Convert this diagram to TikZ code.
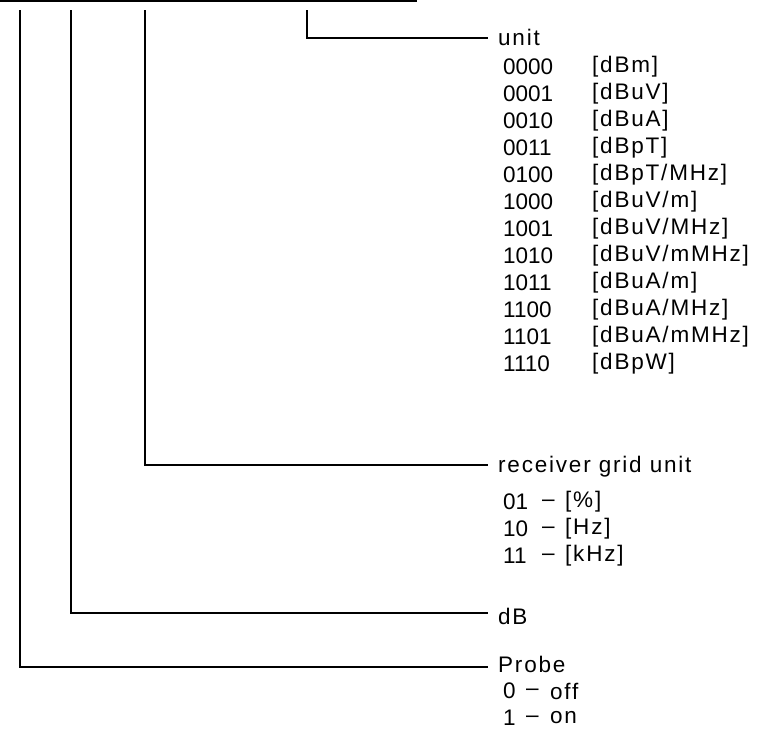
\documentclass[tikz,border=0pt]{standalone}
\usepackage{fontspec}
\setmainfont{Liberation Sans}
\newfontfamily\widefont[LetterSpace=8]{Liberation Sans}
\begin{document}
\begin{tikzpicture}[x=1pt,y=-1pt,
  ln/.style={line width=1.6pt},
  lbl/.style={anchor=west,inner sep=0pt,font=\widefont\fontsize{22.5}{26}\selectfont},
  code/.style={anchor=west,inner sep=0pt,font=\fontsize{22.5}{26}\selectfont}]
\useasboundingbox (0,0) rectangle (775,734);
% top line
\coordinate (t0) at (0,1);
\coordinate (t1) at (417,1);
\draw[ln] (t0) -- (t1);
% label nodes
\node[lbl] (unit) at (498,37) {unit};
\node[lbl] (rgu) at (498,467) {receiver grid unit};
\node[lbl] (db) at (498,616) {dB};
\node[lbl] (probe) at (498,664) {Probe};
% bracket corners
\coordinate (u0) at (307,10);
\coordinate (r0) at (145,10);
\coordinate (d0) at (71,10);
\coordinate (p0) at (20,10);
\draw[ln] (u0) |- ([xshift=-10pt,yshift=-1pt]unit.west);
\draw[ln] (r0) |- ([xshift=-10pt,yshift=2pt]rgu.west);
\draw[ln] (d0) |- ([xshift=-10pt,yshift=3pt]db.west);
\draw[ln] (p0) |- ([xshift=-10pt,yshift=-3pt]probe.west);
% unit codes
\foreach \c/\u [count=\i from 0] in {0000/{[dBm]},0001/{[dBuV]},0010/{[dBuA]},0011/{[dBpT]},0100/{[dBpT/MHz]},1000/{[dBuV/m]},1001/{[dBuV/MHz]},1010/{[dBuV/mMHz]},1011/{[dBuA/m]},1100/{[dBuA/MHz]},1101/{[dBuA/mMHz]},1110/{[dBpW]}}{
  \node[code] (c\i) at (503,{67+27*\i}) {\c};
  \node[lbl] (v\i) at (592,{67+27*\i}) {\u};
}
% grid unit codes
\node[code] (g1) at (503,502) {01};
\node[code] (g1d) at (542,503) {–};
\node[lbl] (g1v) at (565,502) {[\%]};
\node[code] (g2) at (503,529) {10};
\node[code] (g2d) at (542,530) {–};
\node[lbl] (g2v) at (565,529) {[Hz]};
\node[code] (g3) at (503,556) {11};
\node[code] (g3d) at (542,557) {–};
\node[lbl] (g3v) at (565,556) {[kHz]};
% probe
\node[code] (p1) at (503,691) {0};
\node[code] (p1d) at (526,692) {–};
\node[lbl] (p1v) at (550,691) {off};
\node[code] (p2) at (503,718) {1};
\node[code] (p2d) at (526,719) {–};
\node[lbl] (p2v) at (550,718) {on};
\end{tikzpicture}
\end{document}
